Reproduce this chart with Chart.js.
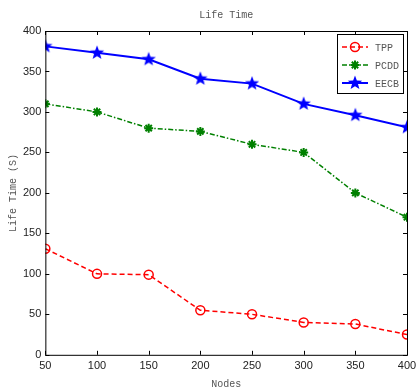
<!DOCTYPE html>
<html>
<head>
<meta charset="utf-8">
<script src="https://cdn.jsdelivr.net/npm/chart.js@4.4.1/dist/chart.umd.min.js"></script>
<style>
  html, body { margin: 0; padding: 0; background: #fff; }
  #wrap { width: 417px; height: 390px; }
</style>
</head>
<body>
<div id="wrap"><canvas id="lifeChart" width="417" height="390"></canvas></div>
<script>
// nodes on the x axis
var nodes = [50, 100, 150, 200, 250, 300, 350, 400];
// life time per protocol
var tpp  = [131, 100, 99, 55, 50, 40, 38, 25];
var pcdd = [310, 300, 280, 276, 260, 250, 200, 170];
var eecb = [381, 373, 365, 341, 335, 310, 296, 281];
var seriesNames = ['TPP', 'PCDD', 'EECB'];
var yTicks = [0, 50, 100, 150, 200, 250, 300, 350, 400];

function toPoints(vals) {
  return vals.map(function (v, i) { return { x: nodes[i], y: v }; });
}

// filled five point star used as marker
function makeStar(size, color) {
  var c = document.createElement('canvas');
  c.width = size; c.height = size;
  var g = c.getContext('2d');
  var cx = size / 2, cy = size / 2, ro = size / 2 - 0.5, ri = ro * 0.42;
  g.beginPath();
  for (var k = 0; k < 10; k++) {
    var r = k % 2 === 0 ? ro : ri;
    var a = -Math.PI / 2 + k * Math.PI / 5;
    g.lineTo(cx + r * Math.cos(a), cy + r * Math.sin(a));
  }
  g.closePath();
  g.fillStyle = color;
  g.fill();
  return c;
}
var starImg = makeStar(16, '#0000ff');

// matlab style frame: box + inward ticks on every side, legend and title
var framePlugin = {
  id: 'frame',
  afterDraw: function (chart) {
    var ctx = chart.ctx, a = chart.chartArea;
    var xs = chart.scales.x, ys = chart.scales.y;
    ctx.save();
    ctx.strokeStyle = '#000';
    ctx.lineWidth = 1;
    ctx.strokeRect(a.left + 0.5, a.top + 0.5, a.right - a.left, a.bottom - a.top);
    ctx.beginPath();
    nodes.forEach(function (n) {
      var px = Math.round(xs.getPixelForValue(n)) + 0.5;
      ctx.moveTo(px, a.bottom); ctx.lineTo(px, a.bottom - 4);
      ctx.moveTo(px, a.top); ctx.lineTo(px, a.top + 4);
    });
    yTicks.forEach(function (t) {
      var py = Math.round(ys.getPixelForValue(t)) + 0.5;
      ctx.moveTo(a.left, py); ctx.lineTo(a.left + 4, py);
      ctx.moveTo(a.right, py); ctx.lineTo(a.right - 4, py);
    });
    ctx.stroke();

    // title
    ctx.fillStyle = '#555';
    ctx.font = '10px "Liberation Mono", monospace';
    ctx.textAlign = 'center';
    ctx.textBaseline = 'middle';
    ctx.fillText('Life Time', (a.left + a.right) / 2, 15);

    // legend box in the top right corner
    var bx = a.right - 70, by = 34, bw = 66, bh = 59;
    ctx.fillStyle = '#fff';
    ctx.fillRect(bx, by, bw, bh);
    ctx.lineWidth = 1;
    ctx.strokeStyle = '#000';
    ctx.strokeRect(bx + 0.5, by + 0.5, bw, bh);
    chart.data.datasets.forEach(function (ds, i) {
      var ly = by + 13 + i * 18;
      ctx.save();
      ctx.strokeStyle = ds.borderColor;
      ctx.lineWidth = ds.borderWidth;
      ctx.setLineDash(ds.borderDash || []);
      ctx.beginPath();
      ctx.moveTo(bx + 5, ly); ctx.lineTo(bx + 31, ly);
      ctx.stroke();
      ctx.setLineDash([]);
      ctx.strokeStyle = ds.pointBorderColor || ds.borderColor;
      ctx.fillStyle = ds.pointBackgroundColor || ds.backgroundColor;
      ctx.lineWidth = ds.pointBorderWidth || 1;
      Chart.helpers.drawPoint(ctx, {
        pointStyle: ds.pointStyle,
        radius: ds.pointRadius,
        borderWidth: ds.pointBorderWidth || 1,
        rotation: 0
      }, bx + 18, ly);
      ctx.restore();
      ctx.fillStyle = '#555';
      ctx.font = '10px "Liberation Mono", monospace';
      ctx.textAlign = 'left';
      ctx.fillText(ds.label, bx + 38, ly + 1);
    });
    ctx.restore();
  }
};

var ctx = document.getElementById('lifeChart').getContext('2d');
var lifeChart = new Chart(ctx, {
  type: 'line',
  data: {
    datasets: [{
      label: seriesNames[0],
      data: toPoints(tpp),
      borderColor: '#ff0000',
      backgroundColor: 'rgba(0,0,0,0)',
      borderWidth: 1.5,
      borderDash: [5, 3],
      pointStyle: 'circle',
      pointRadius: 4.5,
      pointBorderWidth: 1.5,
      pointBorderColor: '#ff0000',
      pointBackgroundColor: 'rgba(0,0,0,0)'
    }, {
      label: seriesNames[1],
      data: toPoints(pcdd),
      borderColor: '#008000',
      backgroundColor: '#008000',
      borderWidth: 1.5,
      borderDash: [5, 2, 1.5, 2],
      pointStyle: 'star',
      pointRadius: 4.5,
      pointBorderWidth: 2,
      pointBorderColor: '#008000',
      pointBackgroundColor: '#008000'
    }, {
      label: seriesNames[2],
      data: toPoints(eecb),
      borderColor: '#0000ff',
      backgroundColor: '#0000ff',
      borderWidth: 2,
      pointStyle: starImg,
      pointRadius: 8
    }]
  },
  options: {
    responsive: false,
    animation: false,
    layout: { padding: { top: 31, right: 5, bottom: 0, left: 7 } },
    plugins: {
      legend: { display: false },
      tooltip: { enabled: false }
    },
    scales: {
      x: {
        type: 'linear',
        min: 50,
        max: 400,
        afterBuildTicks: function (s) { s.ticks = nodes.map(function (v) { return { value: v }; }); },
        afterFit: function (s) { s.paddingRight = 0; },
        grid: { display: false, drawTicks: false },
        border: { display: false },
        ticks: { color: '#222', font: { family: '"Liberation Sans", Arial', size: 11 }, padding: 5, maxRotation: 0 },
        title: { display: true, text: 'Nodes', color: '#555', font: { family: '"Liberation Mono", monospace', size: 10 }, padding: { top: 0, bottom: 0 } }
      },
      y: {
        min: 0,
        max: 400,
        afterBuildTicks: function (s) { s.ticks = yTicks.map(function (v) { return { value: v }; }); },
        grid: { display: false, drawTicks: false },
        border: { display: false },
        ticks: { color: '#222', font: { family: '"Liberation Sans", Arial', size: 11 }, padding: 4 },
        title: { display: true, text: 'Life Time (S)', color: '#555', font: { family: '"Liberation Mono", monospace', size: 10 }, padding: { top: 0, bottom: 0 } }
      }
    }
  },
  plugins: [framePlugin]
});
</script>
</body>
</html>
